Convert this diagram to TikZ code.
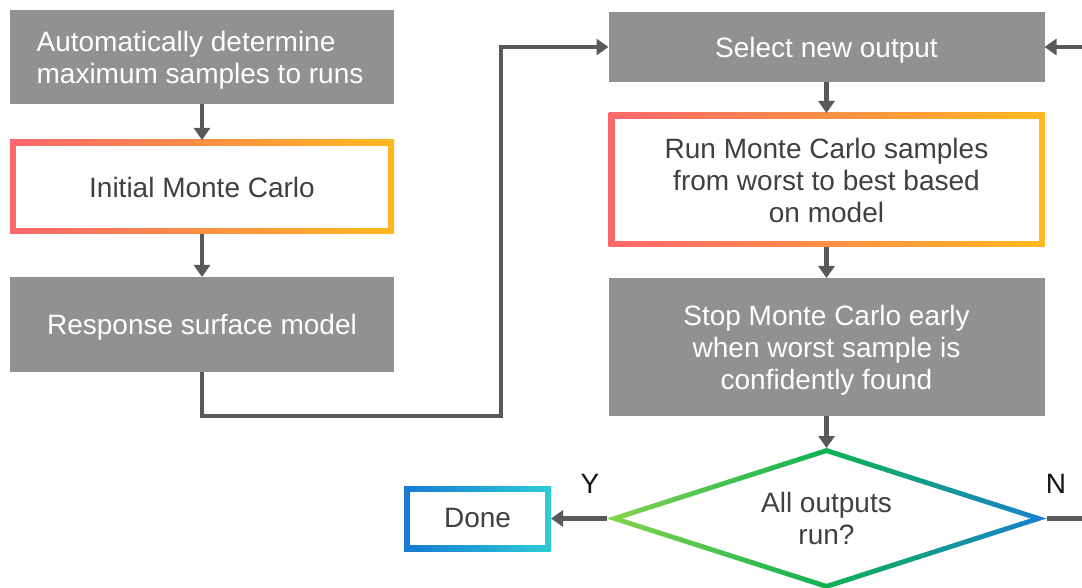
\documentclass[tikz,border=0pt]{standalone}
\usepackage{fontspec}
\setmainfont{Liberation Sans}
\usetikzlibrary{shapes.geometric,arrows.meta}
\definecolor{boxgray}{RGB}{145,145,145}
\definecolor{linegray}{RGB}{89,89,89}
\definecolor{txt}{RGB}{64,64,64}
\definecolor{lbl}{RGB}{20,20,20}
\definecolor{warmL}{RGB}{255,102,108}
\definecolor{warmR}{RGB}{255,184,30}
\definecolor{coolL}{RGB}{22,122,212}
\definecolor{coolR}{RGB}{46,204,214}
\definecolor{grnL}{RGB}{134,212,76}
\definecolor{grnM}{RGB}{14,178,82}
\definecolor{grnR}{RGB}{24,128,212}
\pgfdeclarehorizontalshading{warm}{100bp}{color(0bp)=(warmL); color(25bp)=(warmL); color(75bp)=(warmR); color(100bp)=(warmR)}
\pgfdeclarehorizontalshading{cool}{100bp}{color(0bp)=(coolL); color(25bp)=(coolL); color(75bp)=(coolR); color(100bp)=(coolR)}
\pgfdeclarehorizontalshading{grn}{100bp}{color(0bp)=(grnL); color(25bp)=(grnL); color(50bp)=(grnM); color(75bp)=(grnR); color(100bp)=(grnR)}
\newcommand\dnstrut{\rule{0pt}{26.5pt}}
\tikzset{
  base/.style={font=\fontsize{28}{32}\selectfont, inner sep=0pt, outer sep=0pt, align=center},
  graybox/.style={base, rectangle, fill=boxgray, text=white},
  ringbox/.style={base, rectangle, text=txt, shading=#1,
    path picture={\fill[white] ([shift={(6pt,-6pt)}]path picture bounding box.north west) rectangle ([shift={(-6pt,6pt)}]path picture bounding box.south east);}},
  conn/.style={draw=linegray, line width=4.2pt},
  arr/.style={conn, -{Triangle[length=12pt,width=16pt]}},
  yn/.style={font=\fontsize{28}{32}\selectfont, text=lbl, inner sep=0pt}
}
\begin{document}
\begin{tikzpicture}[x=1pt,y=-1pt]
\useasboundingbox (0,0) rectangle (1082,588);
% left column
\node[graybox, minimum width=384pt, minimum height=94pt, align=left] (A) at (202,57) {\dnstrut\hspace{-4pt}Automatically determine\\\hspace{-4pt}maximum samples to runs};
\node[ringbox=warm, minimum width=384pt, minimum height=94pt] (B) at (202,187) {Initial Monte Carlo};
\node[graybox, minimum width=384pt, minimum height=95pt] (C) at (202,324.5) {\dnstrut Response surface model};
% right column
\node[graybox, minimum width=436pt, minimum height=70pt] (D) at (826.5,47) {\dnstrut Select new output};
\node[ringbox=warm, minimum width=436pt, minimum height=134pt] (E) at (826.5,180) {Run Monte Carlo samples\\from worst to best based\\on model};
\node[graybox, minimum width=436pt, minimum height=138pt] (F) at (826.5,347) {\dnstrut Stop Monte Carlo early\\when worst sample is\\confidently found};
\node[base, diamond, aspect=3.12, minimum width=440pt, minimum height=141pt, text=txt, shading=grn,
  path picture={\fill[white] ([shift={(-203.6pt,0pt)}]path picture bounding box.center) -- ([shift={(0pt,65.2pt)}]path picture bounding box.center) -- ([shift={(203.6pt,0pt)}]path picture bounding box.center) -- ([shift={(0pt,-65.2pt)}]path picture bounding box.center) -- cycle;}] (G) at (826.5,518.5) {All outputs\\run?};
\node[ringbox=cool, minimum width=147pt, minimum height=65pt] (H) at (477.5,518.5) {Done};
% labels
\node[yn] (Y) at (590,484) {Y};
\node[yn] (N) at (1056,484) {N};
% connectors
\coordinate (p1) at (202,416);
\coordinate (p2) at (501,416);
\coordinate (p3) at (501,47);
\coordinate (q1) at (1082,518.5);
\coordinate (q2) at (1082,47);
\draw[arr] (A.south) -- (B.north);
\draw[arr] (B.south) -- (C.north);
\draw[arr] (C.south) -- (p1) -- (p2) -- (p3) -- (D.west);
\draw[arr] (D.south) -- (E.north);
\draw[arr] (E.south) -- (F.north);
\draw[arr] (F.south) -- (G.north);
\draw[arr] (G.west) -- (H.east);
\draw[conn] (G.east) -- (q1);
\draw[arr] (q2) -- (D.east);
\end{tikzpicture}
\end{document}
